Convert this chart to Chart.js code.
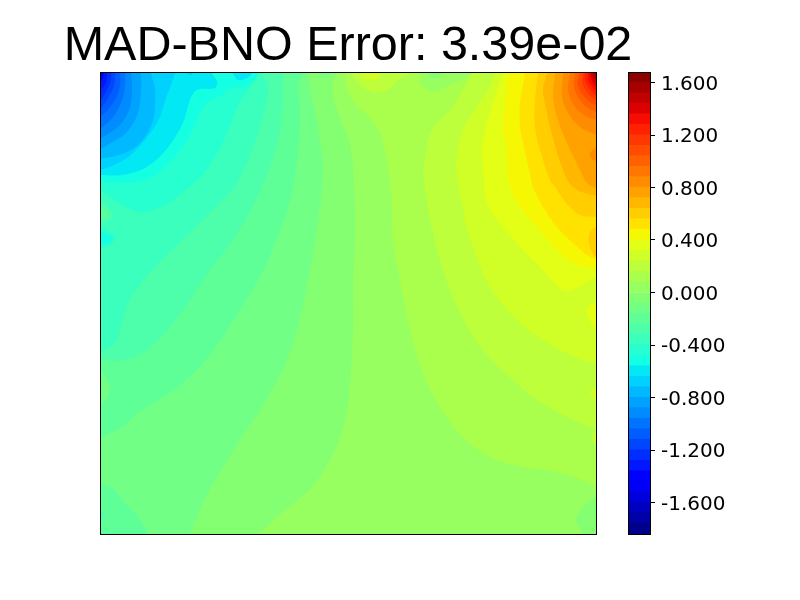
<!DOCTYPE html>
<html><head><meta charset="utf-8">
<style>html,body{margin:0;padding:0;background:#fff}canvas{position:absolute;left:0;top:0}</style>
<script src="https://cdn.jsdelivr.net/npm/chart.js@4"></script>
</head><body>
<canvas id="field" width="800" height="600"></canvas>
<canvas id="bar" width="800" height="600"></canvas>
<script>
const titleText = "MAD-BNO Error: 3.39e-02";
const levels = [-1.84,-1.76,-1.68,-1.60,-1.52,-1.44,-1.36,-1.28,-1.20,-1.12,-1.04,-0.96,-0.88,-0.80,-0.72,-0.64,-0.56,-0.48,-0.40,-0.32,-0.24,-0.16,-0.08,0.00,0.08,0.16,0.24,0.32,0.40,0.48,0.56,0.64,0.72,0.80,0.88,0.96,1.04,1.12,1.20,1.28,1.36,1.44,1.52,1.60,1.68];
const tickValues = [-1.6,-1.2,-0.8,-0.4,0,0.4,0.8,1.2,1.6];
const gridWidth = 496, gridHeight = 462;

// Contour regions: grid coordinates of each filled level set (origin at top-left of the field).
const base = [[-20,-20],[516,-20],[516,482],[-20,482]];
// Low side, top-left corner
const low004 = [[240,-10],[235,6],[232,16],[240,46],[250,73],[254,113],[255,166],[253,208],[253,258],[251,298],[247,338],[238,371],[228,391],[212,415],[182,441],[158,462],[136,482],[-20,482],[-20,-20],[240,-20]];
const low012 = [[205,-10],[207,1],[210,16],[218,56],[223,96],[218,150],[208,208],[192,275],[168,325],[138,371],[108,421],[90,462],[82,482],[-20,482],[-20,-20],[205,-20]];
const low012Top = [[220,-5],[220,1],[225,4],[232,1],[232,-5]];
const low020 = [[206,-10],[203,1],[198,13],[200,39],[198,79],[190,129],[177,166],[165,195],[142,235],[108,285],[78,315],[38,341],[22,355],[0,366],[-20,375],[-20,-20],[206,-20]];
const low020Corner = [[-20,412],[0,413],[12,416],[25,431],[38,445],[48,462],[55,482],[-20,482]];
const low028Speck = [[-10,436],[0,438],[4,442],[0,448],[-10,450]];
const rise012Left = [[-10,298],[0,298],[10,318],[0,333],[-10,333]];
const low028 = [[183,-20],[183,1],[183,29],[177,73],[160,119],[138,160],[105,205],[78,245],[55,271],[35,285],[15,289],[0,286],[-20,280],[-20,-20]];
const low036 = [[158,-20],[162,1],[168,13],[165,36],[160,53],[150,83],[135,113],[112,139],[93,158],[62,188],[38,215],[28,231],[22,251],[15,271],[0,280],[-20,285],[-20,-20]];
const rise028Left = [[-10,127],[0,129],[12,139],[12,146],[0,151],[-10,151]];
const rise020Left = [[-10,134],[0,136],[6,140],[6,144],[0,146],[-10,146]];
const low044Bubble = [[-10,154],[0,156],[13,163],[15,166],[10,173],[0,175],[-10,175]];
const low052Bubble = [[-10,158],[0,159],[10,164],[12,167],[8,171],[0,172],[-10,172]];
const low044 = [[162,-20],[158,3],[138,33],[128,59],[108,96],[88,116],[65,133],[45,140],[32,138],[15,128],[0,118],[-20,108],[-20,-20]];
const low052 = [[160,-20],[158,1],[155,6],[145,15],[132,16],[122,23],[105,33],[90,63],[72,88],[50,106],[25,111],[0,110],[-20,109],[-20,-20]];
const low060 = [[110,-20],[112,1],[117,9],[115,16],[95,19],[82,53],[65,79],[45,96],[22,103],[0,103],[-20,103],[-20,-20]];
const low060Bubble = [[133,-5],[133,1],[138,8],[147,6],[152,1],[152,-5]];
const low068Speck = [[87,-5],[87,1],[90,3],[93,1],[93,-5]];
const low068 = [[76,-20],[75,1],[67,23],[58,49],[38,76],[22,89],[0,98],[-20,105],[-20,-20]];
const low076 = [[50,-20],[51,1],[55,18],[53,48],[41,70],[25,81],[0,87],[-20,92],[-20,-20]];
const low084 = [[41,-20],[41,1],[41,18],[38,41],[26,61],[11,71],[0,77],[-20,88],[-20,-20]];
const low092 = [[31,-20],[31,1],[32,15],[30,35],[20,53],[0,67],[-20,80],[-20,-20]];
const low100 = [[25,-20],[25,1],[25,15],[21,31],[13,45],[0,57],[-20,72],[-20,-20]];
const low108 = [[20,-20],[20,1],[20,13],[15,28],[0,46],[-20,66],[-20,-20]];
const low116 = [[15,-20],[15,1],[14,13],[8,26],[0,37],[-20,55],[-20,-20]];
const low124 = [[11,-20],[11,1],[10,11],[0,29],[-20,50],[-20,-20]];
const low132 = [[7,-20],[7,1],[6,10],[0,19],[-20,40],[-20,-20]];
const low140 = [[4,-20],[4,1],[0,11],[-20,30],[-20,-20]];
// High side, top-right corner
const high012 = [[243,-20],[245,1],[247,16],[257,33],[273,49],[282,66],[288,96],[292,129],[293,166],[300,208],[310,258],[323,301],[340,335],[363,365],[390,385],[423,395],[457,400],[477,406],[496,415],[516,425],[516,-20]];
const hole004 = [[320,-20],[320,1],[320,11],[333,20],[350,13],[372,1],[376,-20]];
const hole004Inner = [[327,-20],[327,1],[333,6],[343,1],[343,-20]];
const cornerLow004 = [[516,420],[496,425],[483,435],[476,448],[483,462],[490,482],[516,482]];
const top020 = [[252,-20],[252,1],[260,13],[277,21],[290,16],[300,6],[310,1],[310,-20]];
const top028 = [[260,-20],[260,1],[272,9],[282,1],[282,-20]];
const edge020 = [[516,358],[496,358],[491,368],[496,372],[516,372]];
const high020 = [[376,-20],[372,1],[350,38],[332,58],[325,86],[323,99],[327,129],[332,158],[343,198],[360,241],[383,278],[410,305],[437,328],[463,343],[496,358],[516,366],[516,-20]];
const edge028 = [[516,314],[496,316],[490,321],[496,328],[516,330]];
const high028 = [[397,-20],[395,1],[387,20],[375,38],[363,58],[357,83],[357,103],[363,136],[367,158],[377,185],[390,215],[417,248],[443,268],[477,286],[496,291],[516,296],[516,-20]];
const edge036 = [[516,230],[496,230],[487,238],[490,250],[496,255],[516,255]];
const high036 = [[404,-20],[402,1],[392,33],[385,58],[382,78],[383,98],[387,131],[403,155],[423,178],[443,198],[463,218],[477,216],[496,205],[516,200],[516,-20]];
const high044 = [[410,-20],[408,1],[405,28],[403,58],[405,68],[407,98],[410,115],[420,135],[437,155],[457,178],[473,191],[493,196],[516,197],[516,-20]];
const high052 = [[426,-20],[425,1],[420,31],[420,55],[424,75],[429,98],[433,115],[443,135],[457,155],[473,171],[493,186],[516,187],[516,-20]];
const edge060 = [[516,150],[496,155],[490,160],[489,171],[492,180],[496,185],[516,187]];
const high060 = [[440,-20],[438,1],[435,28],[435,55],[440,78],[450,108],[455,115],[468,133],[480,143],[496,145],[516,146],[516,-20]];
const high068 = [[448,-20],[447,1],[443,18],[447,41],[450,55],[463,98],[473,115],[493,123],[516,124],[516,-20]];
const high076 = [[456,-20],[455,1],[453,25],[458,48],[467,71],[480,98],[487,111],[496,116],[516,118],[516,-20]];
const edge084 = [[516,74],[496,76],[490,81],[491,86],[496,89],[516,91]];
const high084 = [[464,-20],[463,1],[462,25],[468,41],[480,55],[497,63],[516,70],[516,-20]];
const high092 = [[471,-20],[470,1],[468,18],[475,35],[487,45],[497,48],[516,50],[516,-20]];
const high100 = [[476,-20],[475,1],[474,15],[480,28],[488,36],[497,40],[516,42],[516,-20]];
const high108 = [[480,-20],[479,1],[478,13],[483,23],[490,30],[497,33],[516,35],[516,-20]];
const high116 = [[484,-20],[483,1],[482,10],[487,20],[492,25],[497,28],[516,30],[516,-20]];
const high124 = [[486,-20],[485,1],[485,8],[489,16],[497,24],[516,30],[516,-20]];
const high132 = [[489,-20],[488,1],[488,8],[492,14],[497,20],[516,26],[516,-20]];
const high140 = [[491,-20],[490,1],[491,6],[497,15],[516,24],[516,-20]];
const high148 = [[493,-20],[492,1],[493,5],[497,11],[516,20],[516,-20]];
const high156 = [[495,-20],[494,1],[497,8],[516,16],[516,-20]];
const high164 = [[497,-20],[495.5,1],[497,4],[516,10],[516,-20]];

// [band centre value, region] in painting order (first painted first)
const regions = [
 [0.04,base],[-0.04,low004],[-0.12,low012],[-0.2,low020],[-0.2,low020Corner],[-0.28,low028Speck],[-0.12,rise012Left],
 [-0.28,low028],[-0.36,low036],[-0.28,rise028Left],[-0.2,rise020Left],[-0.44,low044Bubble],[-0.52,low052Bubble],
 [-0.44,low044],[-0.52,low052],[-0.6,low060],[-0.6,low060Bubble],[-0.68,low068Speck],[-0.68,low068],[-0.76,low076],[-0.84,low084],[-0.92,low092],[-1.0,low100],[-1.08,low108],[-1.16,low116],[-1.24,low124],[-1.32,low132],[-1.4,low140],
 [-0.12,low012Top],
 [0.12,high012],[0.04,hole004],[-0.04,hole004Inner],[-0.04,cornerLow004],[0.2,top020],[0.28,top028],
 [0.2,high020],[0.2,edge020],[0.28,edge028],[0.28,high028],[0.36,edge036],[0.36,high036],[0.44,high044],[0.52,high052],[0.6,edge060],
 [0.6,high060],[0.68,high068],[0.76,high076],[0.84,edge084],[0.84,high084],[0.92,high092],[1.0,high100],[1.08,high108],[1.16,high116],[1.24,high124],[1.32,high132],[1.4,high140],[1.48,high148],[1.56,high156],[1.64,high164]
];

function piece(t,stops){for(let i=1;i<stops.length;i++){if(t<=stops[i][0]){const a=stops[i-1],b=stops[i];return a[1]+(b[1]-a[1])*(t-a[0])/(b[0]-a[0]);}}return stops[stops.length-1][1];}
function jet(v){
  const t=(v-levels[0])/(levels[levels.length-1]-levels[0]);
  const r=piece(t,[[0,0],[0.35,0],[0.66,1],[0.89,1],[1,0.5]]);
  const g=piece(t,[[0,0],[0.125,0],[0.375,1],[0.64,1],[0.91,0],[1,0]]);
  const b=piece(t,[[0,0.5],[0.11,1],[0.34,1],[0.65,0],[1,0]]);
  return `rgb(${Math.round(r*255)},${Math.round(g*255)},${Math.round(b*255)})`;
}
const framePlugin={id:'frame',afterDraw(c){const a=c.chartArea,x=c.ctx;x.save();x.strokeStyle='#000';x.lineWidth=1;
  x.strokeRect(Math.round(a.left)+.5,Math.round(a.top)+.5,Math.round(a.right-a.left),Math.round(a.bottom-a.top));x.restore();}};

const blankAxis=(position,width)=>({type:'linear',position,min:0,max:gridHeight,reverse:true,
  afterFit(s){s.width=width;},ticks:{display:false},grid:{display:false},border:{display:false}});

new Chart(document.getElementById('field'),{
  type:'scatter',
  plugins:[framePlugin],
  // Chart.js paints the first dataset last, so the painting order is reversed here.
  data:{datasets:regions.slice().reverse().map(([v,pts])=>({
    data:pts.map(p=>({x:p[0],y:p[1]})),
    showLine:true,fill:'shape',backgroundColor:jet(v),borderWidth:0,borderColor:'transparent',
    pointRadius:0,pointHoverRadius:0,tension:0.35,capBezierPoints:false
  }))},
  options:{
    responsive:false,animation:false,events:[],
    layout:{padding:{left:0,right:104,top:22,bottom:66}},
    scales:{
      x:{type:'linear',min:0,max:gridWidth,display:false},
      y:blankAxis('left',100),
      yRight:blankAxis('right',100)
    },
    plugins:{
      legend:{display:false},tooltip:{enabled:false},
      title:{display:true,text:titleText,color:'#000',padding:0,
        font:{family:'"Liberation Sans",Arial,sans-serif',size:48.5,weight:'normal',lineHeight:50/48.5}}
    }
  }
});

const lows=levels.slice(0,-1);
new Chart(document.getElementById('bar'),{
  type:'bar',
  plugins:[framePlugin],
  data:{labels:['scale'],datasets:lows.map((lo,i)=>({
    data:[[lo,levels[i+1]]],backgroundColor:jet((lo+levels[i+1])/2),borderWidth:0,inflateAmount:0.6,
    grouped:false,barPercentage:1,categoryPercentage:1
  }))},
  options:{
    responsive:false,animation:false,events:[],
    layout:{padding:{left:628,right:0,top:72,bottom:66}},
    scales:{
      x:{display:false},
      y:{type:'linear',position:'right',min:levels[0],max:levels[levels.length-1],
        afterBuildTicks(s){s.ticks=tickValues.map(value=>({value}));},
        afterFit(s){s.width=150;},
        border:{display:false},
        grid:{drawOnChartArea:false,drawTicks:true,tickLength:5,tickColor:'#000',tickWidth:1},
        ticks:{color:'#000',padding:6,autoSkip:false,maxRotation:0,align:'center',labelOffset:2,
          font:{family:'"DejaVu Sans",sans-serif',size:20},
          callback:v=>Number(v).toFixed(3)}
      }
    },
    plugins:{legend:{display:false},tooltip:{enabled:false}}
  }
});
</script>
</body></html>
